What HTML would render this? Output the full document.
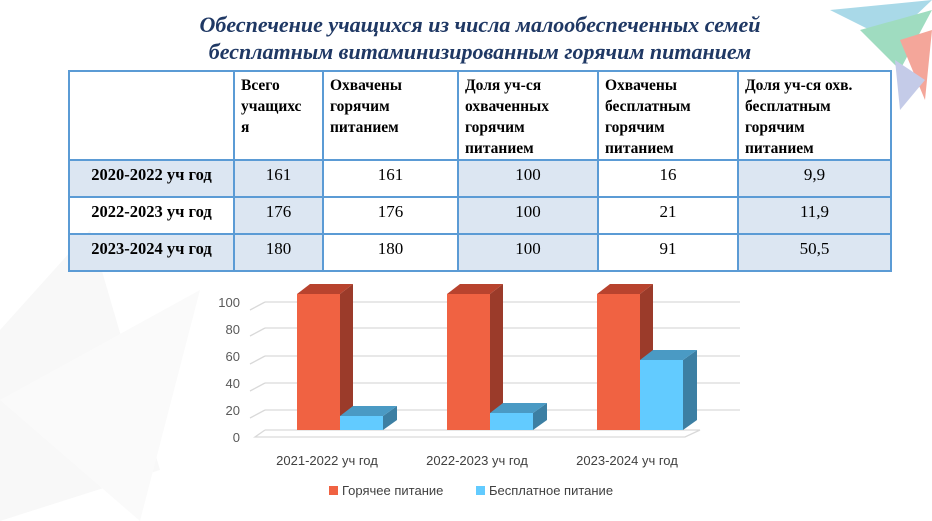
<!DOCTYPE html>
<html><head><meta charset="utf-8"><style>
body{margin:0;width:932px;height:521px;background:#fff;position:relative;overflow:hidden;font-family:"Liberation Serif",serif}
.t{position:absolute;left:0;width:960px;text-align:center;color:#1f3864;font-weight:bold;font-style:italic;font-size:22px;line-height:27px;top:11px}
table{position:absolute;left:68px;top:70px;border-collapse:collapse;table-layout:fixed;width:822px}
td{border:2px solid #5b9bd5;padding:2px 6px 0;vertical-align:top;height:33px;line-height:24px;overflow:hidden}
th{border:2px solid #5b9bd5;text-align:left;vertical-align:top;padding:3px 6px 0;font-size:15.5px;line-height:21px;font-weight:bold;height:81px;overflow:hidden;white-space:nowrap}
.s{background:#dce6f2}
td.c{text-align:center;font-size:17px}
td.l{font-weight:bold;text-align:center;font-size:16.5px}
</style></head><body>
<svg style="position:absolute;left:0;top:0" width="932" height="521">
<polygon points="0,330 90,230 160,470 0,521" fill="#f8f8f8"/>
<polygon points="0,400 200,290 140,521" fill="#fafafa"/>
<polygon points="830,10 932,0 890,40" fill="#a9d9e8"/>
<polygon points="860,30 932,10 900,70" fill="#9fdcc0"/>
<polygon points="900,40 932,30 925,100" fill="#f4a69a"/>
<polygon points="895,60 925,80 900,110" fill="#c4cbe8"/>
</svg>
<div class="t">Обеспечение учащихся из числа малообеспеченных семей<br>бесплатным витаминизированным горячим питанием</div>
<table>
<colgroup><col style="width:165px"><col style="width:89px"><col style="width:135px"><col style="width:140px"><col style="width:140px"><col style="width:153px"></colgroup>
<tr><th></th><th>Всего<br>учащихс<br>я</th><th>Охвачены<br>горячим<br>питанием</th><th>Доля уч-ся<br>охваченных<br>горячим<br>питанием</th><th>Охвачены<br>бесплатным<br>горячим<br>питанием</th><th>Доля уч-ся охв.<br>бесплатным<br>горячим<br>питанием</th></tr>
<tr><td class="l s">2020-2022 уч год</td><td class="c s">161</td><td class="c">161</td><td class="c s">100</td><td class="c">16</td><td class="c s">9,9</td></tr>
<tr><td class="l">2022-2023 уч год</td><td class="c s">176</td><td class="c">176</td><td class="c s">100</td><td class="c">21</td><td class="c s">11,9</td></tr>
<tr><td class="l s">2023-2024 уч год</td><td class="c s">180</td><td class="c">180</td><td class="c s">100</td><td class="c">91</td><td class="c s">50,5</td></tr>
</table>
<svg style="position:absolute;left:0;top:0" width="932" height="521" font-family="Liberation Sans,sans-serif">
<g stroke="#d9d9d9" stroke-width="1.3" fill="none">
<path d="M265,302 L740,302 M250,310 L265,302"/><path d="M265,328 L740,328 M250,336 L265,328"/>
<path d="M265,356 L740,356 M250,364 L265,356"/><path d="M265,383 L740,383 M250,391 L265,383"/>
<path d="M265,410 L740,410 M250,418 L265,410"/><path d="M265,430 L700,430 L685,437 L255,437 L265,430"/>
</g>
<g font-size="13" fill="#595959" text-anchor="end">
<text x="240" y="307">100</text><text x="240" y="334">80</text><text x="240" y="361">60</text><text x="240" y="388">40</text><text x="240" y="415">20</text><text x="240" y="442">0</text></g>
<g>
<polygon points="340,294 353,284 353,420 340,430" fill="#9b3b2a"/><polygon points="297,294 310,284 353,284 340,294" fill="#b8432e"/><rect x="297" y="294" width="43" height="136" fill="#f06242"/>
<polygon points="383,416 397,406 397,420 383,430" fill="#3c7fa3"/><polygon points="340,416 353,406 397,406 383,416" fill="#4a9ac4"/><rect x="340" y="416" width="43" height="14" fill="#62cbff"/>
<polygon points="490,294 503,284 503,420 490,430" fill="#9b3b2a"/><polygon points="447,294 460,284 503,284 490,294" fill="#b8432e"/><rect x="447" y="294" width="43" height="136" fill="#f06242"/>
<polygon points="533,413 547,403 547,420 533,430" fill="#3c7fa3"/><polygon points="490,413 503,403 547,403 533,413" fill="#4a9ac4"/><rect x="490" y="413" width="43" height="17" fill="#62cbff"/>
<polygon points="640,294 653,284 653,420 640,430" fill="#9b3b2a"/><polygon points="597,294 610,284 653,284 640,294" fill="#b8432e"/><rect x="597" y="294" width="43" height="136" fill="#f06242"/>
<polygon points="683,360 697,350 697,420 683,430" fill="#3c7fa3"/><polygon points="640,360 653,350 697,350 683,360" fill="#4a9ac4"/><rect x="640" y="360" width="43" height="70" fill="#62cbff"/>
</g>
<g font-size="13" fill="#404040" text-anchor="middle">
<text x="327" y="465">2021-2022 уч год</text><text x="477" y="465">2022-2023 уч год</text><text x="627" y="465">2023-2024 уч год</text></g>
<rect x="329" y="486" width="9" height="9" fill="#f06242"/><text x="342" y="495" font-size="13" fill="#404040">Горячее питание</text>
<rect x="476" y="486" width="9" height="9" fill="#62cbff"/><text x="489" y="495" font-size="13" fill="#404040">Бесплатное питание</text>
</svg>
</body></html>
